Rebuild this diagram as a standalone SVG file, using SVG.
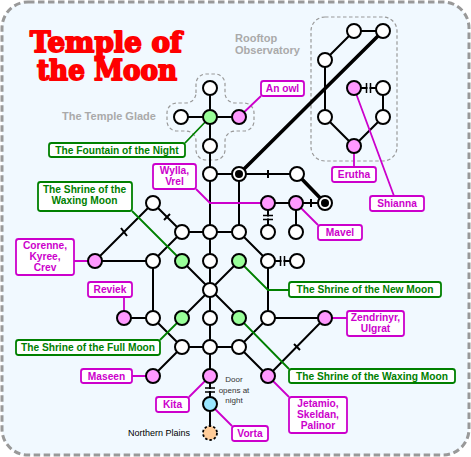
<svg xmlns="http://www.w3.org/2000/svg" width="471" height="457" viewBox="0 0 471 457">
<defs><style>
.e{stroke:#000;stroke-width:2;fill:none}
.t{stroke:#000;stroke-width:3.6;fill:none}
.m{stroke:#cc00cc;stroke-width:1.8;fill:none}
.g{stroke:#008000;stroke-width:1.8;fill:none}
.n{stroke:#000;stroke-width:2;fill:#fff}
.p{fill:#ff99ff}.h{fill:#99ff99}
.bm{fill:#fff;stroke:#cc00cc;stroke-width:1.8}
.bg{fill:#fff;stroke:#008000;stroke-width:1.8}
.lm,.lg{font:bold 10.2px "Liberation Sans",Arial,sans-serif;text-anchor:middle}
.lm{fill:#cc00cc}.lg{fill:#008000}
.z{stroke:#999;stroke-width:1.2;stroke-dasharray:3.5 2.5;fill:none}
.zl{font:bold 11px "Liberation Sans",Arial,sans-serif;fill:#aaa}
.s{font:8px "Liberation Sans",Arial,sans-serif;fill:#333}
.title{font:900 27px "DejaVu Serif","Liberation Serif",serif;fill:#f00;stroke:#f00;stroke-width:1.8;stroke-linejoin:round;text-anchor:middle}
</style></defs>
<rect x="2" y="2" width="467" height="453" rx="26" fill="#f1f9ff" stroke="#999" stroke-width="3" stroke-dasharray="6.5 3.5"/>
<g id="title"><text class="title" x="106" y="52" textLength="152" lengthAdjust="spacingAndGlyphs">Temple of</text><text class="title" x="107" y="80" textLength="140" lengthAdjust="spacingAndGlyphs">the Moon</text></g>
<g id="zones">
<rect class="z" x="311" y="17" width="86" height="144" rx="14"/>
<path class="z" d="M196 93V84a10 10 0 0 1 10-10h9a10 10 0 0 1 10 10v9a10 10 0 0 0 10 10h9a10 10 0 0 1 10 10v8a10 10 0 0 1-10 10h-9a10 10 0 0 0-10 10v9a10 10 0 0 1-10 10h-9a10 10 0 0 1-10-10v-9a10 10 0 0 0-10-10h-9a10 10 0 0 1-10-10v-8a10 10 0 0 1 10-10h9a10 10 0 0 0 10-10z"/>
<text class="zl" x="62" y="120">The Temple Glade</text>
<text class="zl" x="235" y="42">Rooftop</text><text class="zl" x="235" y="53.500">Observatory</text>
</g>
<g id="connectors">
<path class="e" d="M210 88V376M181 117H239M210 174H297M239 174V232M268 203H325M268 203V232M296 203V232M354 31H383M354 31L325 60V117L354 146L383 117V88H354M153 203L182 232H239L268 261V318M153 203L95 261H153V318H124M182 232L153 261M297 261H268M153 318L182 347H239L268 318H325L268 376L239 347M182 347L153 376M182 261L239 318M239 261L182 318M210 376V433"/>
<path class="t" d="M239 174L383 31M297 174L325 203"/>
<path class="e" d="M268 170V178M311 199V207M121 228L127 236M164 220L170 214M294 344L300 350"/>
<path fill="none" stroke="#f1f9ff" stroke-width="3" d="M367.500 88H369.500M281.500 261H283.500M268 216.500V218.500M210 389V391"/>
<path stroke="#000" stroke-width="1.5" d="M366.500 83V93M370.500 83V93M280.500 256V266M284.500 256V266M263 215.500H273M263 219.500H273M205 388H215M205 392H215"/>
</g>
<g id="callouts">
<path class="m" d="M239 117L261 96M196 189L210 203H268M296 203L318 225M354 146V167M354 88L394 196M95 261H74M124 318V297M153 376H132M210 376L189 397M210 404L232 426M325 318H347M268 376L289 397"/>
<path class="g" d="M210 117L185 143M132 211L182 261M239 261L268 290H289M182 318L160 340M239 318L289 369"/>
</g>
<g id="nodes">
<g id="n1"><circle class="n" cx="210" cy="88" r="7"/></g>
<circle class="n" cx="181" cy="117" r="7"/>
<g id="fountain"><circle class="n h" cx="210" cy="117" r="7"/></g>
<circle class="n p" cx="239" cy="117" r="7"/>
<circle class="n" cx="210" cy="146" r="7"/>
<circle class="n" cx="210" cy="174" r="7"/>
<circle class="n" cx="239" cy="174" r="7"/><circle cx="239" cy="174" r="4"/>
<circle class="n" cx="297" cy="174" r="7"/>
<circle class="n" cx="325" cy="203" r="7"/><circle cx="325" cy="203" r="4"/>
<circle class="n p" cx="268" cy="203" r="7"/><circle class="n p" cx="296" cy="203" r="7"/>
<circle class="n" cx="268" cy="232" r="7"/><circle class="n" cx="296" cy="232" r="7"/>
<circle class="n" cx="354" cy="31" r="7"/><circle class="n" cx="383" cy="31" r="7"/>
<circle class="n" cx="325" cy="60" r="7"/>
<circle class="n p" cx="354" cy="88" r="7"/><circle class="n" cx="383" cy="88" r="7"/>
<circle class="n" cx="325" cy="117" r="7"/><circle class="n" cx="383" cy="117" r="7"/>
<circle class="n p" cx="354" cy="146" r="7"/>
<circle class="n" cx="153" cy="203" r="7"/>
<circle class="n" cx="182" cy="232" r="7"/><circle class="n" cx="210" cy="232" r="7"/><circle class="n" cx="239" cy="232" r="7"/>
<circle class="n p" cx="95" cy="261" r="7"/><circle class="n" cx="153" cy="261" r="7"/>
<circle class="n h" cx="182" cy="261" r="7"/><circle class="n" cx="210" cy="261" r="7"/><circle class="n h" cx="239" cy="261" r="7"/>
<circle class="n" cx="268" cy="261" r="7"/><circle class="n" cx="297" cy="261" r="7"/>
<circle class="n" cx="210" cy="290" r="7"/>
<circle class="n p" cx="124" cy="318" r="7"/><circle class="n" cx="153" cy="318" r="7"/>
<circle class="n h" cx="182" cy="318" r="7"/><circle class="n" cx="210" cy="318" r="7"/><circle class="n h" cx="239" cy="318" r="7"/>
<circle class="n" cx="268" cy="318" r="7"/><circle class="n p" cx="325" cy="318" r="7"/>
<circle class="n" cx="182" cy="347" r="7"/><circle class="n" cx="210" cy="347" r="7"/><circle class="n" cx="239" cy="347" r="7"/>
<circle class="n p" cx="153" cy="376" r="7"/><circle class="n p" cx="210" cy="376" r="7"/><circle class="n p" cx="268" cy="376" r="7"/>
<circle class="n" cx="210" cy="404" r="7" style="fill:#99e6ff"/>
<circle cx="210" cy="433" r="7" fill="#ffcc99" stroke="#000" stroke-width="1.8" stroke-dasharray="2.500 2"/>
</g>
<g id="labels">
<g id="l-owl"><rect class="bm" x="261" y="81" width="43" height="15" rx="2.500"/><text class="lm" x="282.500" y="92">An owl</text></g>
<g id="l-fountain"><rect class="bg" x="49" y="143" width="136" height="14" rx="2.500"/><text class="lg" x="117" y="153.500">The Fountain of the Night</text></g>
<g id="l-wylla"><rect class="bm" x="153" y="164" width="43" height="25" rx="2.500"/><text class="lm" x="174.500" y="174">Wylla,</text><text class="lm" x="174.500" y="185">Vrel</text></g>
<g id="l-erutha"><rect class="bm" x="332" y="167" width="44" height="15" rx="2.500"/><text class="lm" x="354" y="178">Erutha</text></g>
<g id="l-shianna"><rect class="bm" x="370" y="196" width="54" height="15" rx="2.500"/><text class="lm" x="397" y="207">Shianna</text></g>
<g id="l-mavel"><rect class="bm" x="318" y="225" width="44" height="15" rx="2.500"/><text class="lm" x="340" y="236">Mavel</text></g>
<g id="l-waxing1"><rect class="bg" x="38" y="182" width="94" height="29" rx="2.500"/><text class="lg" x="84.500" y="193">The Shrine of the</text><text class="lg" x="84.500" y="204">Waxing Moon</text></g>
<g id="l-corenne"><rect class="bm" x="16" y="239" width="58" height="36" rx="2.500"/><text class="lm" x="45" y="249">Corenne,</text><text class="lm" x="45" y="260">Kyree,</text><text class="lm" x="45" y="271">Crev</text></g>
<g id="l-reviek"><rect class="bm" x="88" y="282" width="44" height="15" rx="2.500"/><text class="lm" x="110" y="293">Reviek</text></g>
<g id="l-full"><rect class="bg" x="16" y="340" width="144" height="15" rx="2.500"/><text class="lg" x="88" y="351">The Shrine of the Full Moon</text></g>
<g id="l-maseen"><rect class="bm" x="81" y="369" width="51" height="14" rx="2.500"/><text class="lm" x="106.500" y="380">Maseen</text></g>
<g id="l-kita"><rect class="bm" x="156" y="397" width="33" height="15" rx="2.500"/><text class="lm" x="172.500" y="408">Kita</text></g>
<g id="l-vorta"><rect class="bm" x="232" y="426" width="36" height="15" rx="2.500"/><text class="lm" x="250" y="437">Vorta</text></g>
<g id="l-new"><rect class="bg" x="289" y="282" width="152" height="15" rx="2.500"/><text class="lg" x="365" y="293">The Shrine of the New Moon</text></g>
<g id="l-zen"><rect class="bm" x="347" y="311" width="57" height="25" rx="2.500"/><text class="lm" x="375.500" y="321">Zendrinyr,</text><text class="lm" x="375.500" y="332">Ulgrat</text></g>
<g id="l-waxing2"><rect class="bg" x="289" y="369" width="166" height="14" rx="2.500"/><text class="lg" x="372" y="380">The Shrine of the Waxing Moon</text></g>
<g id="l-jet"><rect class="bm" x="289" y="397" width="58" height="36" rx="2.500"/><text class="lm" x="318" y="407">Jetamio,</text><text class="lm" x="318" y="418">Skeldan,</text><text class="lm" x="318" y="429">Palinor</text></g>
<text class="s" x="234" y="382" text-anchor="middle">Door</text><text class="s" x="234" y="392.500" text-anchor="middle">opens at</text><text class="s" x="234" y="403" text-anchor="middle">night</text>
<text class="s" x="128" y="436" style="font-size:9px;fill:#000">Northern Plains</text>
</g>
</svg>
